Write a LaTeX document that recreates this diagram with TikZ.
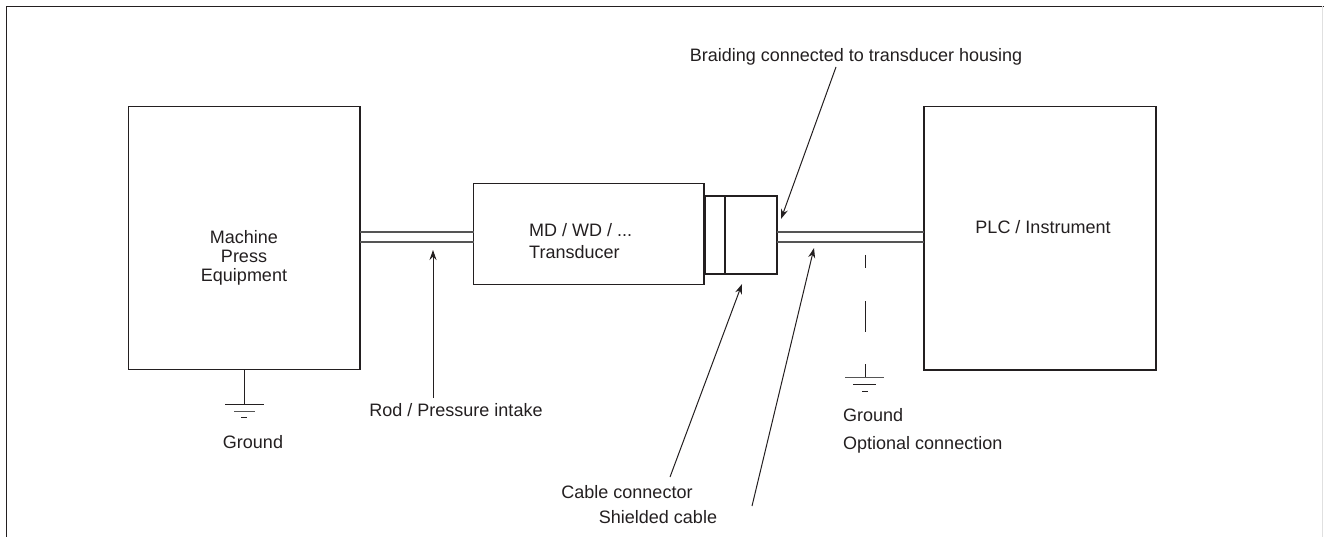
\documentclass[tikz,border=0pt]{standalone}
\usepackage{fontspec}
\setmainfont{Liberation Sans}
\usetikzlibrary{arrows.meta}
\definecolor{ink}{HTML}{231F20}
\definecolor{linec}{HTML}{555555}
\begin{document}
\begin{tikzpicture}[x=1pt,y=-1pt,
  box/.style={draw=ink, line width=1.2pt, outer sep=0pt, inner sep=0pt, anchor=north west},
  lbl/.style={text=ink, font=\fontsize{18}{19}\selectfont, inner sep=0pt},
  arr/.style={draw=ink, line width=1pt, -{Stealth[length=10pt,width=7pt]}},
  wire/.style={draw=linec, line width=1.3pt},
  gnd/.style={draw=ink, line width=1pt},
]
\useasboundingbox (0,0) rectangle (1324,537);
% frame
\draw[ink, line width=1.4pt] (6.5,537) -- (6.5,6.5) -- (1324,6.5);
\draw[black!12, line width=1pt] (1322.5,6.5) -- (1322.5,537);

% boxes
\node[box, minimum width=231.5, minimum height=263] (mach) at (128.5,106.5) {};
\node[box, minimum width=230.5, minimum height=101] (td) at (473.5,183.5) {};
\node[box, minimum width=72, minimum height=78] (conn) at (705,196) {};
\node[box, minimum width=232, minimum height=263.5] (plc) at (924,106.5) {};
\draw[ink, line width=2pt] ([xshift=20]conn.north west) -- ([xshift=20]conn.south west);

% rod and cable (double lines)
\coordinate (r1) at (360,232); \coordinate (r2) at (473.5,232);
\coordinate (r3) at (360,242); \coordinate (r4) at (473.5,242);
\draw[wire] (r1) -- (r2); \draw[wire] (r3) -- (r4);
\coordinate (c1) at (777,232); \coordinate (c2) at (924,232);
\coordinate (c3) at (777,242); \coordinate (c4) at (924,242);
\draw[wire] (c1) -- (c2); \draw[wire] (c3) -- (c4);

% box texts
\node[lbl, align=center, anchor=base] (machtxt) at (244,281.5) {Machine\\Press\\Equipment};
\node[lbl, align=left, anchor=base west] (tdtxt) at (529,258.5) {MD / WD / ...\\[3pt]Transducer};
\node[lbl, anchor=base] (plctxt) at (1043,233.5) {PLC / Instrument};

% left ground
\coordinate (g1) at (244,369.5); \coordinate (g2) at (244,404);
\draw[gnd] (g1) -- (g2);
\draw[gnd] (225,404) -- (264,404);
\draw[gnd, draw=linec] (234,411) -- (255,411);
\draw[gnd] (241,417.5) -- (247,417.5);
\node[lbl, anchor=base] (gndl) at (253,448.5) {Ground};

% right ground (optional)
\coordinate (h1) at (865,255); \coordinate (h2) at (865,377);
\draw[gnd, dash pattern=on 13pt off 33pt on 31pt off 32pt] (h1) -- (h2);
\draw[gnd, draw=linec] (845,377) -- (884,377);
\draw[gnd] (853,384) -- (876,384);
\draw[gnd] (862,391) -- (868,391);
\node[lbl, anchor=base west] (gndr) at (843,421.5) {Ground};
\node[lbl, anchor=base west] (opt) at (843,449.5) {Optional connection};

% labels
\node[lbl, anchor=base] (braid) at (856,61.5) {Braiding connected to transducer housing};
\node[lbl, anchor=base] (rod) at (456,416.5) {Rod / Pressure intake};
\node[lbl, anchor=base] (cablec) at (627,498.5) {Cable connector};
\node[lbl, anchor=base] (shield) at (658,523.5) {Shielded cable};

% arrows
\coordinate (a1) at (433,398); \coordinate (a2) at (433,250);
\draw[arr] (a1) -- (a2);
\coordinate (b1) at (836,67); \coordinate (b2) at (781,219);
\draw[arr] (b1) -- (b2);
\coordinate (k1) at (670,477); \coordinate (k2) at (742,284);
\draw[arr] (k1) -- (k2);
\coordinate (s1) at (752,506); \coordinate (s2) at (814,248);
\draw[arr] (s1) -- (s2);
\end{tikzpicture}
\end{document}
